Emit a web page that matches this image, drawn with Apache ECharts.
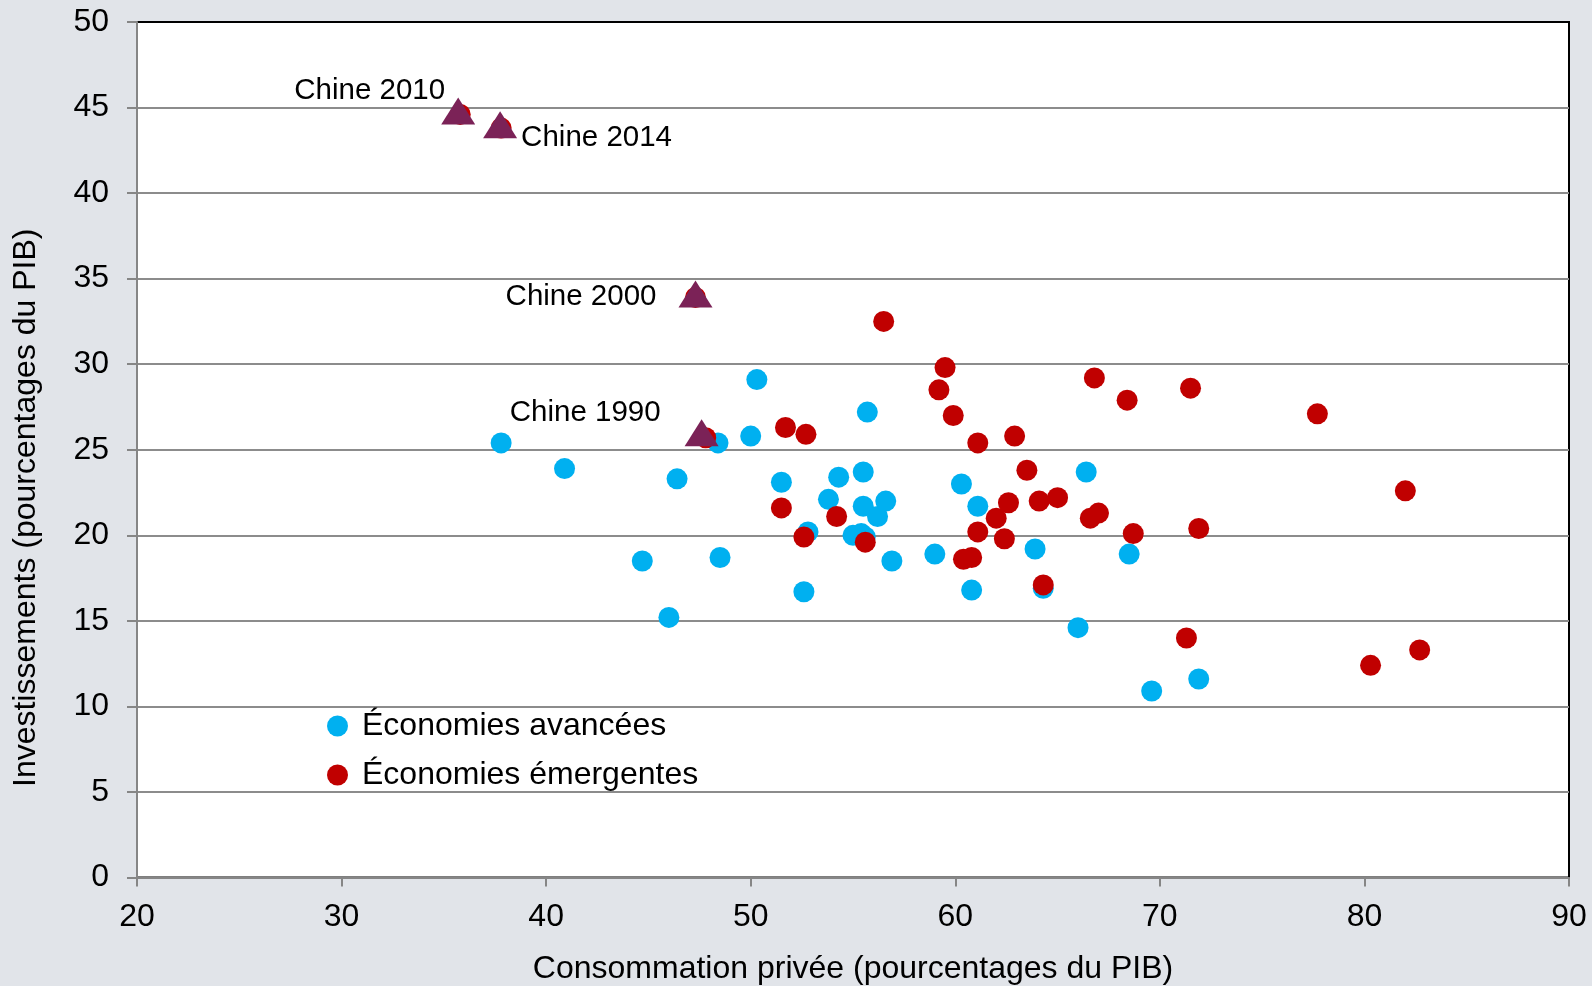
<!DOCTYPE html>
<html>
<head>
<meta charset="utf-8">
<title>Consommation privée et investissements</title>
<script src="https://cdn.jsdelivr.net/npm/echarts@6/dist/echarts.min.js"></script>
<style>
    html, body { margin: 0; padding: 0; background: #e1e4e9; }
    #chart { width: 1592px; height: 986px; }
</style>
</head>
<body>
<div id="chart"></div>
<script>
// Économies avancées
var advX = [37.8, 40.9, 44.7, 46.0, 46.4, 48.4, 48.5, 50.0, 50.3, 51.5, 52.6, 52.8, 53.8, 54.3, 55.0, 55.4, 55.6,
    55.5, 55.5, 55.7, 56.2, 56.6, 56.9, 59.0, 60.3, 60.8, 61.1, 63.9, 64.3, 66.0, 66.4, 68.5, 69.6, 71.9];
var advY = [25.4, 23.9, 18.5, 15.2, 23.3, 25.4, 18.7, 25.8, 29.1, 23.1, 16.7, 20.2, 22.1, 23.4, 20.0, 20.1, 19.9,
    21.7, 23.7, 27.2, 21.1, 22.0, 18.5, 18.9, 23.0, 16.8, 21.7, 19.2, 16.9, 14.6, 23.7, 18.9, 10.9, 11.6];

// Économies émergentes
var emeX = [35.8, 37.8, 47.3, 47.8, 51.7, 52.7, 51.5, 52.6, 54.2, 55.6, 56.5, 59.5, 59.2, 59.9, 61.1, 62.9, 63.5,
    60.4, 60.8, 61.1, 62.0, 62.4, 62.6, 64.1, 65.0, 64.3, 66.6, 67.0, 66.8, 68.4, 68.7, 71.5, 71.9, 71.3, 77.7,
    82.0, 80.3, 82.7];
var emeY = [44.6, 43.8, 33.9, 25.7, 26.3, 25.9, 21.6, 19.9, 21.1, 19.6, 32.5, 29.8, 28.5, 27.0, 25.4, 25.8, 23.8,
    18.6, 18.7, 20.2, 21.0, 19.8, 21.9, 22.0, 22.2, 17.1, 21.0, 21.3, 29.2, 27.9, 20.1, 28.6, 20.4, 14.0, 27.1,
    22.6, 12.4, 13.3];

// Chine
var chinaNames = ['Chine 1990', 'Chine 2000', 'Chine 2010', 'Chine 2014'];
var chinaX = [47.6, 47.3, 35.7, 37.75];
var chinaY = [26.0, 34.1, 44.8, 44.0];

var xTicks = [20, 30, 40, 50, 60, 70, 80, 90];
var yTicks = [0, 5, 10, 15, 20, 25, 30, 35, 40, 45, 50];

var font = "'Liberation Sans', Arial, sans-serif";

function pairs(xs, ys) {
    return xs.map(function (x, i) { return [x, ys[i]]; });
}

// placement of the China labels
var chinaLabel = {
    'Chine 1990': { position: 'left', distance: 24, offset: [0, -20] },
    'Chine 2000': { position: 'left', distance: 22, offset: [0, 3] },
    'Chine 2010': { position: 'left', distance: -4, offset: [0, -20] },
    'Chine 2014': { position: 'right', distance: 4, offset: [0, 13] }
};

var chinaData = chinaNames.map(function (n, i) {
    var l = chinaLabel[n];
    return {
        name: n,
        value: [chinaX[i], chinaY[i]],
        label: { show: true, formatter: n, position: l.position, distance: l.distance, offset: l.offset }
    };
});

var chart = echarts.init(document.getElementById('chart'));
chart.setOption({
    backgroundColor: '#e1e4e9',
    textStyle: { fontFamily: font },
    animation: false,
    grid: {
        left: 137, right: 23, top: 22, bottom: 108.5,
        containLabel: false,
        outerBoundsMode: 'none',
        show: true, backgroundColor: '#ffffff', borderColor: '#000000', borderWidth: 2
    },
    legend: {
        data: ['Économies avancées', 'Économies émergentes'],
        orient: 'vertical',
        left: 327, top: 710,
        padding: 0,
        itemGap: 17,
        itemWidth: 21, itemHeight: 21,
        icon: 'circle',
        textStyle: { fontSize: 32, color: '#000', fontFamily: font, lineHeight: 32, padding: [0, 0, 0, 9] }
    },
    xAxis: {
        type: 'value',
        min: 20, max: 90, interval: 10,
        name: 'Consommation privée (pourcentages du PIB)',
        nameLocation: 'middle',
        nameGap: 76,
        nameTextStyle: { fontSize: 32, color: '#000', fontFamily: font },
        axisLine: { show: true, lineStyle: { color: '#868686', width: 2 } },
        axisTick: { show: true, length: 9, lineStyle: { color: '#868686', width: 2 } },
        axisLabel: {
            fontSize: 32, color: '#000', margin: 24, fontFamily: font,
            formatter: function (v) { return xTicks.indexOf(v) >= 0 ? String(v) : ''; }
        },
        splitLine: { show: false }
    },
    yAxis: {
        type: 'value',
        min: 0, max: 50, interval: 5,
        name: 'Investissements (pourcentages du PIB)',
        nameLocation: 'middle',
        nameGap: 95,
        nameTextStyle: { fontSize: 32, color: '#000', fontFamily: font, padding: [0, 116, 0, 0] },
        axisLine: { show: true, lineStyle: { color: '#868686', width: 2 } },
        axisTick: { show: true, length: 10, lineStyle: { color: '#868686', width: 2 } },
        axisLabel: {
            fontSize: 32, color: '#000', margin: 28, fontFamily: font,
            formatter: function (v) { return yTicks.indexOf(v) >= 0 ? String(v) : ''; }
        },
        splitLine: { show: true, showMaxLine: false, lineStyle: { color: '#8c8c8c', width: 2 } }
    },
    series: [
        {
            name: 'Économies avancées',
            type: 'scatter',
            symbol: 'circle',
            symbolSize: 21,
            itemStyle: { color: '#00b0f0', opacity: 1 },
            data: pairs(advX, advY)
        },
        {
            name: 'Économies émergentes',
            type: 'scatter',
            symbol: 'circle',
            symbolSize: 21,
            itemStyle: { color: '#c00000', opacity: 1 },
            data: pairs(emeX, emeY)
        },
        {
            name: 'Chine',
            type: 'scatter',
            symbol: 'triangle',
            symbolSize: [34, 27],
            itemStyle: { color: '#7b2257', opacity: 1 },
            label: { fontSize: 29.5, color: '#000', fontFamily: font },
            data: chinaData
        }
    ]
});
</script>
</body>
</html>
